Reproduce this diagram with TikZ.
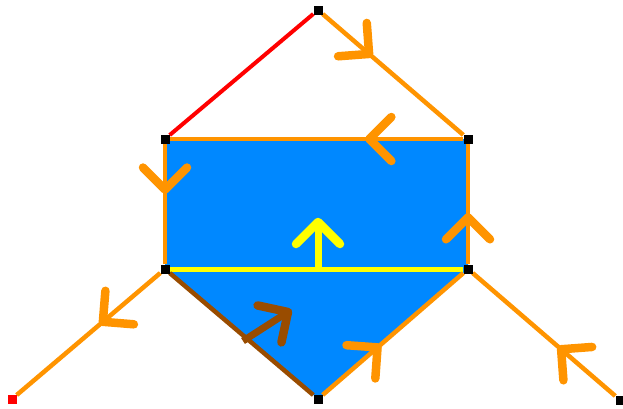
\documentclass[tikz,border=0pt]{standalone}
\usetikzlibrary{decorations.markings}
\definecolor{edgeorange}{HTML}{FF9400}
\definecolor{faceblue}{HTML}{0088FF}
\definecolor{edgebrown}{HTML}{994C00}
\definecolor{edgeyellow}{HTML}{FFFF00}
\definecolor{edgered}{HTML}{FF0000}
\tikzset{
  vert/.style={draw=none,fill=black,minimum size=9pt,inner sep=0pt},
  chev/.style 2 args={postaction={decorate,decoration={markings,
    mark=at position #1 with {\draw[#2,line width=8.5pt,line cap=round,line join=round]
      (-22pt,22pt)--(0pt,0pt)--(-22pt,-22pt);}}}}
}
\begin{document}
\begin{tikzpicture}[x=1pt,y=-1pt]
  \useasboundingbox (0,0) rectangle (623,408);
  % vertices
  \node[vert] (vt) at (318,10) {};
  \node[vert] (vul) at (165,139) {};
  \node[vert] (vur) at (468,139) {};
  \node[vert] (vml) at (165,269) {};
  \node[vert] (vmr) at (468,269) {};
  \node[vert] (vb) at (318,399) {};
  \node[vert,fill=edgered] (vfl) at (12,399) {};
  \node[vert] (vfr) at (620,400) {};
  % face
  \fill[faceblue] (vul.center) -- (vur.center) -- (vmr.center) -- (vb.center) -- (vml.center) -- cycle;
  % edges
  \draw[edgered,line width=4pt] (vt) -- (vul);
  \draw[edgeorange,line width=4.5pt,chev={0.33}{edgeorange}] (vt) -- (vur);
  \draw[edgeorange,line width=4.5pt,chev={0.32}{edgeorange}] (vur) -- (vul);
  \draw[edgeorange,line width=4.5pt,chev={0.38}{edgeorange}] (vul) -- (vml);
  \draw[edgeorange,line width=4.5pt,chev={0.39}{edgeorange}] (vmr) -- (vur);
  \draw[edgeyellow,line width=5pt] (vml) -- (vmr);
  \draw[edgebrown,line width=4.5pt] (vml) -- (vb);
  \draw[edgeorange,line width=4.5pt,chev={0.39}{edgeorange}] (vb) -- (vmr);
  \draw[edgeorange,line width=4.5pt,chev={0.38}{edgeorange}] (vfr) -- (vmr);
  \draw[edgeorange,line width=4.5pt,chev={0.40}{edgeorange}] (vml) -- (vfl);
  % normals
  \coordinate (ya) at (318,269);
  \coordinate (yb) at (318,222);
  \draw[edgeyellow,line width=7pt,chev={1}{edgeyellow}] (ya) -- (yb);
  \coordinate (ba) at (243,341);
  \coordinate (bb) at (288,312);
  \draw[edgebrown,line width=7pt,chev={1}{edgebrown}] (ba) -- (bb);
  % vertex marks on top
  \foreach \v in {vt,vul,vur,vml,vmr,vb,vfr} {
    \node[vert] at (\v) {};
  }
  \node[vert,fill=edgered] at (vfl) {};
\end{tikzpicture}
\end{document}
